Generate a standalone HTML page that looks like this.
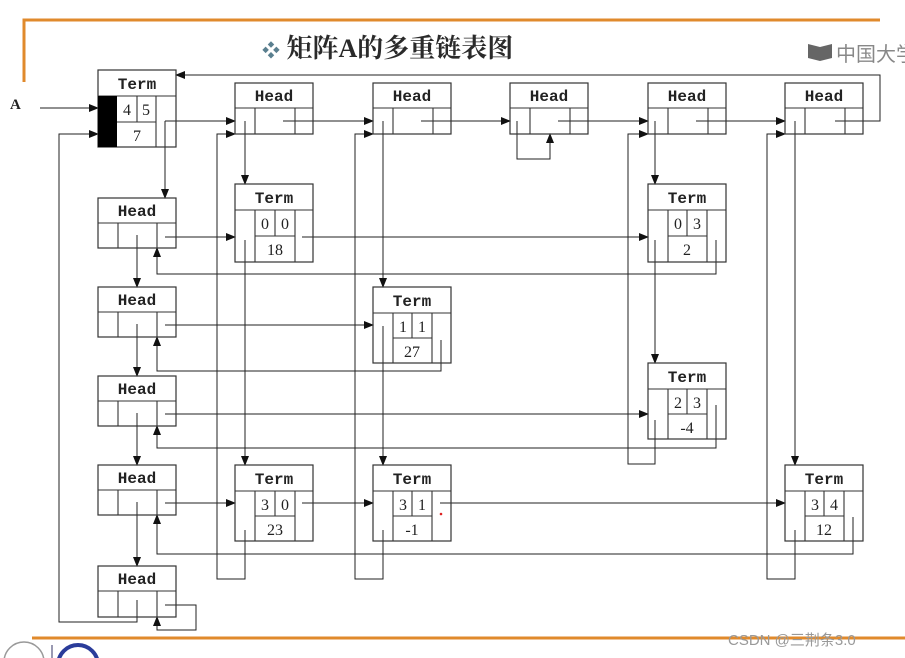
<!DOCTYPE html>
<html><head><meta charset="utf-8">
<style>
html,body{margin:0;padding:0;background:#fff;}
body{width:905px;height:658px;overflow:hidden;}
svg{display:block;}
.n{fill:#fff;stroke:#333;stroke-width:1.2;}
.l{fill:none;stroke:#333;stroke-width:1.1;}
.c{fill:none;stroke:#222;stroke-width:1;}
.t{font-family:"Liberation Mono","DejaVu Sans Mono",monospace;font-size:16px;font-weight:bold;fill:#222;text-anchor:middle;}
.v{font-family:"Liberation Serif",serif;font-size:16px;fill:#222;text-anchor:middle;}
</style></head><body>
<svg width="905" height="658" viewBox="0 0 905 658" xmlns="http://www.w3.org/2000/svg">
<defs>
<marker id="a" markerWidth="10" markerHeight="8" refX="9" refY="4" orient="auto" markerUnits="userSpaceOnUse">
<path d="M0,0 L10,4 L0,8 z" fill="#111"/></marker>
</defs>
<path d="M24,82 L24,20 L880,20" stroke="#e08a2c" stroke-width="3" fill="none"/>
<line x1="32" y1="638" x2="905" y2="638" stroke="#e08a2c" stroke-width="3"/>
<text x="262" y="57" font-family="'Liberation Serif','Noto Serif CJK SC',serif" font-size="26" font-weight="bold" fill="#2a2a2a"><tspan fill="#5a7f8f" font-size="18">❖</tspan> 矩阵A的多重链表图</text>
<path d="M808,44 l12,3 l0,14 l-12,-3z M820,47 l12,-3 l0,14 l-12,3z" fill="#666"/>
<text x="836" y="61" font-family="'Noto Sans CJK SC',sans-serif" font-size="20" fill="#888">中国大学</text>
<text x="10" y="109" font-family="'Liberation Serif',serif" font-size="15" font-weight="bold" fill="#222">A</text>

<g class="c">
<polyline points="40,108 98,108" marker-end="url(#a)"/>
<polyline points="137,600 137,622 59,622 59,134 98,134" marker-end="url(#a)"/>
<polyline points="835,121 880,121 880,75 176,75" marker-end="url(#a)"/>
<polyline points="165,121 235,121" marker-end="url(#a)"/>
<polyline points="165,121 165,198" marker-end="url(#a)"/>
<polyline points="283,121 373,121" marker-end="url(#a)"/>
<polyline points="421,121 510,121" marker-end="url(#a)"/>
<polyline points="558,121 648,121" marker-end="url(#a)"/>
<polyline points="696,121 785,121" marker-end="url(#a)"/>
<polyline points="245,121 245,184" marker-end="url(#a)"/>
<polyline points="245,240 245,465" marker-end="url(#a)"/>
<polyline points="245,530 245,579 217,579 217,134 235,134" marker-end="url(#a)"/>
<polyline points="383,121 383,287" marker-end="url(#a)"/>
<polyline points="383,326 383,465" marker-end="url(#a)"/>
<polyline points="383,530 383,579 355,579 355,134 373,134" marker-end="url(#a)"/>
<polyline points="517,121 517,159 550,159 550,134" marker-end="url(#a)"/>
<polyline points="655,121 655,184" marker-end="url(#a)"/>
<polyline points="655,240 655,363" marker-end="url(#a)"/>
<polyline points="655,420 655,464 628,464 628,134 648,134" marker-end="url(#a)"/>
<polyline points="795,121 795,465" marker-end="url(#a)"/>
<polyline points="795,530 795,579 767,579 767,134 785,134" marker-end="url(#a)"/>
<polyline points="165,237 235,237" marker-end="url(#a)"/>
<polyline points="302,237 648,237" marker-end="url(#a)"/>
<polyline points="716,240 716,274 157,274 157,248" marker-end="url(#a)"/>
<polyline points="137,235 137,287" marker-end="url(#a)"/>
<polyline points="137,324 137,376" marker-end="url(#a)"/>
<polyline points="137,413 137,465" marker-end="url(#a)"/>
<polyline points="137,502 137,566" marker-end="url(#a)"/>
<polyline points="165,325 373,325" marker-end="url(#a)"/>
<polyline points="441,340 441,371 157,371 157,337" marker-end="url(#a)"/>
<polyline points="165,414 648,414" marker-end="url(#a)"/>
<polyline points="716,405 716,448 157,448 157,426" marker-end="url(#a)"/>
<polyline points="165,503 235,503" marker-end="url(#a)"/>
<polyline points="302,503 373,503" marker-end="url(#a)"/>
<polyline points="440,503 785,503" marker-end="url(#a)"/>
<polyline points="853,517 853,554 157,554 157,515" marker-end="url(#a)"/>
<polyline points="165,605 196,605 196,630 157,630 157,617" marker-end="url(#a)"/>
</g>

<g>
<rect class="n" x="98" y="70" width="78" height="77" fill-opacity="0"/>
<line class="l" x1="98" y1="96" x2="176" y2="96"/>
<rect x="98" y="96" width="19" height="51" fill="#000"/>
<line class="l" x1="156" y1="96" x2="156" y2="147"/>
<line class="l" x1="117" y1="122" x2="156" y2="122"/>
<line class="l" x1="137" y1="96" x2="137" y2="122"/>
<text class="t" x="137" y="89">Term</text>
<text class="v" x="127" y="115">4</text><text class="v" x="146" y="115">5</text>
<text class="v" x="137" y="141">7</text>
</g>

<g>
<rect class="n" x="235" y="83" width="78" height="51" fill-opacity="0"/><line class="l" x1="235" y1="108" x2="313" y2="108"/><line class="l" x1="255" y1="108" x2="255" y2="134"/><line class="l" x1="295" y1="108" x2="295" y2="134"/><text class="t" x="274" y="101">Head</text>
<rect class="n" x="373" y="83" width="78" height="51" fill-opacity="0"/><line class="l" x1="373" y1="108" x2="451" y2="108"/><line class="l" x1="393" y1="108" x2="393" y2="134"/><line class="l" x1="433" y1="108" x2="433" y2="134"/><text class="t" x="412" y="101">Head</text>
<rect class="n" x="510" y="83" width="78" height="51" fill-opacity="0"/><line class="l" x1="510" y1="108" x2="588" y2="108"/><line class="l" x1="530" y1="108" x2="530" y2="134"/><line class="l" x1="570" y1="108" x2="570" y2="134"/><text class="t" x="549" y="101">Head</text>
<rect class="n" x="648" y="83" width="78" height="51" fill-opacity="0"/><line class="l" x1="648" y1="108" x2="726" y2="108"/><line class="l" x1="668" y1="108" x2="668" y2="134"/><line class="l" x1="708" y1="108" x2="708" y2="134"/><text class="t" x="687" y="101">Head</text>
<rect class="n" x="785" y="83" width="78" height="51" fill-opacity="0"/><line class="l" x1="785" y1="108" x2="863" y2="108"/><line class="l" x1="805" y1="108" x2="805" y2="134"/><line class="l" x1="845" y1="108" x2="845" y2="134"/><text class="t" x="824" y="101">Head</text>

<rect class="n" x="98" y="198" width="78" height="50" fill-opacity="0"/><line class="l" x1="98" y1="223" x2="176" y2="223"/><line class="l" x1="118" y1="223" x2="118" y2="248"/><line class="l" x1="157" y1="223" x2="157" y2="248"/><text class="t" x="137" y="216">Head</text>
<rect class="n" x="98" y="287" width="78" height="50" fill-opacity="0"/><line class="l" x1="98" y1="312" x2="176" y2="312"/><line class="l" x1="118" y1="312" x2="118" y2="337"/><line class="l" x1="157" y1="312" x2="157" y2="337"/><text class="t" x="137" y="305">Head</text>
<rect class="n" x="98" y="376" width="78" height="50" fill-opacity="0"/><line class="l" x1="98" y1="401" x2="176" y2="401"/><line class="l" x1="118" y1="401" x2="118" y2="426"/><line class="l" x1="157" y1="401" x2="157" y2="426"/><text class="t" x="137" y="394">Head</text>
<rect class="n" x="98" y="465" width="78" height="50" fill-opacity="0"/><line class="l" x1="98" y1="490" x2="176" y2="490"/><line class="l" x1="118" y1="490" x2="118" y2="515"/><line class="l" x1="157" y1="490" x2="157" y2="515"/><text class="t" x="137" y="483">Head</text>
<rect class="n" x="98" y="566" width="78" height="51" fill-opacity="0"/><line class="l" x1="98" y1="591" x2="176" y2="591"/><line class="l" x1="118" y1="591" x2="118" y2="617"/><line class="l" x1="157" y1="591" x2="157" y2="617"/><text class="t" x="137" y="584">Head</text>
</g>

<g>
<rect class="n" x="235" y="184" width="78" height="78" fill-opacity="0"/><line class="l" x1="235" y1="210" x2="313" y2="210"/><line class="l" x1="255" y1="210" x2="255" y2="262"/><line class="l" x1="295" y1="210" x2="295" y2="262"/><line class="l" x1="255" y1="236" x2="295" y2="236"/><line class="l" x1="275" y1="210" x2="275" y2="236"/>
<text class="t" x="274" y="203">Term</text><text class="v" x="265" y="229">0</text><text class="v" x="285" y="229">0</text><text class="v" x="275" y="255">18</text>

<rect class="n" x="648" y="184" width="78" height="78" fill-opacity="0"/><line class="l" x1="648" y1="210" x2="726" y2="210"/><line class="l" x1="668" y1="210" x2="668" y2="262"/><line class="l" x1="707" y1="210" x2="707" y2="262"/><line class="l" x1="668" y1="236" x2="707" y2="236"/><line class="l" x1="687" y1="210" x2="687" y2="236"/>
<text class="t" x="687" y="203">Term</text><text class="v" x="678" y="229">0</text><text class="v" x="697" y="229">3</text><text class="v" x="687" y="255">2</text>

<rect class="n" x="373" y="287" width="78" height="76" fill-opacity="0"/><line class="l" x1="373" y1="313" x2="451" y2="313"/><line class="l" x1="393" y1="313" x2="393" y2="363"/><line class="l" x1="432" y1="313" x2="432" y2="363"/><line class="l" x1="393" y1="338" x2="432" y2="338"/><line class="l" x1="412" y1="313" x2="412" y2="338"/>
<text class="t" x="412" y="306">Term</text><text class="v" x="403" y="332">1</text><text class="v" x="422" y="332">1</text><text class="v" x="412" y="357">27</text>

<rect class="n" x="648" y="363" width="78" height="76" fill-opacity="0"/><line class="l" x1="648" y1="389" x2="726" y2="389"/><line class="l" x1="668" y1="389" x2="668" y2="439"/><line class="l" x1="707" y1="389" x2="707" y2="439"/><line class="l" x1="668" y1="414" x2="707" y2="414"/><line class="l" x1="687" y1="389" x2="687" y2="414"/>
<text class="t" x="687" y="382">Term</text><text class="v" x="678" y="408">2</text><text class="v" x="697" y="408">3</text><text class="v" x="687" y="433">-4</text>

<rect class="n" x="235" y="465" width="78" height="76" fill-opacity="0"/><line class="l" x1="235" y1="491" x2="313" y2="491"/><line class="l" x1="255" y1="491" x2="255" y2="541"/><line class="l" x1="295" y1="491" x2="295" y2="541"/><line class="l" x1="255" y1="516" x2="295" y2="516"/><line class="l" x1="275" y1="491" x2="275" y2="516"/>
<text class="t" x="274" y="484">Term</text><text class="v" x="265" y="510">3</text><text class="v" x="285" y="510">0</text><text class="v" x="275" y="535">23</text>

<rect class="n" x="373" y="465" width="78" height="76" fill-opacity="0"/><line class="l" x1="373" y1="491" x2="451" y2="491"/><line class="l" x1="393" y1="491" x2="393" y2="541"/><line class="l" x1="432" y1="491" x2="432" y2="541"/><line class="l" x1="393" y1="516" x2="432" y2="516"/><line class="l" x1="412" y1="491" x2="412" y2="516"/>
<text class="t" x="412" y="484">Term</text><text class="v" x="403" y="510">3</text><text class="v" x="422" y="510">1</text><text class="v" x="412" y="535">-1</text>

<rect class="n" x="785" y="465" width="78" height="76" fill-opacity="0"/><line class="l" x1="785" y1="491" x2="863" y2="491"/><line class="l" x1="805" y1="491" x2="805" y2="541"/><line class="l" x1="844" y1="491" x2="844" y2="541"/><line class="l" x1="805" y1="516" x2="844" y2="516"/><line class="l" x1="824" y1="491" x2="824" y2="516"/>
<text class="t" x="824" y="484">Term</text><text class="v" x="815" y="510">3</text><text class="v" x="834" y="510">4</text><text class="v" x="824" y="535">12</text>
</g>
<circle cx="441" cy="514" r="1.3" fill="#d22"/>

<circle cx="24" cy="662" r="20" fill="none" stroke="#999" stroke-width="1.5"/>
<line x1="52" y1="645" x2="52" y2="658" stroke="#336" stroke-width="1"/>
<circle cx="78" cy="665" r="20" fill="none" stroke="#2a3c9a" stroke-width="4"/>
<text x="728" y="645" font-family="'Liberation Sans','Noto Sans CJK SC',sans-serif" font-size="15" fill="#999">CSDN @三荆条3.0</text>
</svg>
</body></html>
